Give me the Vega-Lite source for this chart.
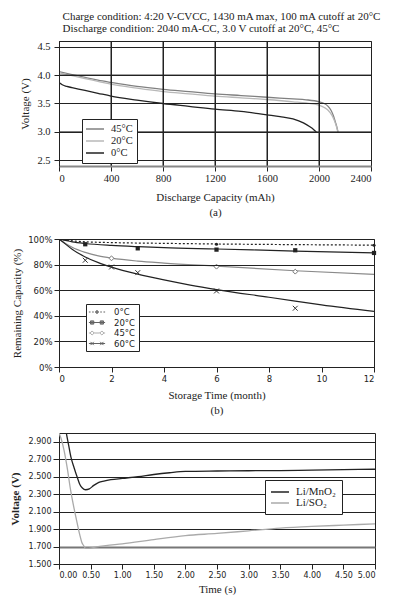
{
  "$schema": "https://vega.github.io/schema/vega-lite/v6.json",
  "padding": {"left": 8, "top": 11, "right": 5, "bottom": 0},
  "background": "white",
  "spacing": 16,
  "title": {"text": ["Charge condition: 4:20 V-CVCC, 1430 mA max, 100 mA cutoff at 20°C", "Discharge condition: 2040 mA-CC, 3.0 V cutoff at 20°C, 45°C"], "anchor": "start", "frame": "bounds", "dx": 54, "font": "Liberation Serif", "fontSize": 11, "fontWeight": "normal", "color": "#222", "lineHeight": 12, "offset": 6},
  "resolve": {
    "scale": {"stroke": "independent", "fill": "independent", "shape": "independent"},
    "legend": {"stroke": "independent", "fill": "independent", "shape": "independent"}
  },
  "config": {
    "view": {"stroke": "#222", "strokeWidth": 1},
    "axis": {"titleFont": "Liberation Serif", "titleFontWeight": "normal", "titleFontSize": 11, "titleColor": "#222", "labelColor": "#222", "tickColor": "#222", "domainColor": "#222", "gridColor": "#222", "gridOpacity": 1, "tickSize": 5, "labelPadding": 2, "labelOverlap": false},
    "legend": {"titleFont": "Liberation Serif"}
  },
  "datasets": {
    "a": [
      {"series": "45°C", "cap": 0, "v": 4.06}, {"series": "45°C", "cap": 100, "v": 4.01}, {"series": "45°C", "cap": 200, "v": 3.96}, {"series": "45°C", "cap": 300, "v": 3.91}, {"series": "45°C", "cap": 400, "v": 3.87}, {"series": "45°C", "cap": 600, "v": 3.80}, {"series": "45°C", "cap": 800, "v": 3.75}, {"series": "45°C", "cap": 1000, "v": 3.71}, {"series": "45°C", "cap": 1200, "v": 3.67}, {"series": "45°C", "cap": 1400, "v": 3.64}, {"series": "45°C", "cap": 1600, "v": 3.61}, {"series": "45°C", "cap": 1800, "v": 3.58}, {"series": "45°C", "cap": 1900, "v": 3.565}, {"series": "45°C", "cap": 2000, "v": 3.53}, {"series": "45°C", "cap": 2040, "v": 3.50}, {"series": "45°C", "cap": 2070, "v": 3.45}, {"series": "45°C", "cap": 2090, "v": 3.39}, {"series": "45°C", "cap": 2110, "v": 3.29}, {"series": "45°C", "cap": 2125, "v": 3.18}, {"series": "45°C", "cap": 2138, "v": 3.08}, {"series": "45°C", "cap": 2146, "v": 3.0},
      {"series": "20°C", "cap": 0, "v": 4.04}, {"series": "20°C", "cap": 100, "v": 3.99}, {"series": "20°C", "cap": 200, "v": 3.94}, {"series": "20°C", "cap": 300, "v": 3.89}, {"series": "20°C", "cap": 400, "v": 3.84}, {"series": "20°C", "cap": 600, "v": 3.77}, {"series": "20°C", "cap": 800, "v": 3.71}, {"series": "20°C", "cap": 1000, "v": 3.67}, {"series": "20°C", "cap": 1200, "v": 3.63}, {"series": "20°C", "cap": 1400, "v": 3.60}, {"series": "20°C", "cap": 1600, "v": 3.57}, {"series": "20°C", "cap": 1800, "v": 3.53}, {"series": "20°C", "cap": 1900, "v": 3.51}, {"series": "20°C", "cap": 2000, "v": 3.47}, {"series": "20°C", "cap": 2040, "v": 3.43}, {"series": "20°C", "cap": 2070, "v": 3.38}, {"series": "20°C", "cap": 2100, "v": 3.29}, {"series": "20°C", "cap": 2120, "v": 3.19}, {"series": "20°C", "cap": 2135, "v": 3.09}, {"series": "20°C", "cap": 2145, "v": 3.0},
      {"series": "0°C", "cap": 0, "v": 3.87}, {"series": "0°C", "cap": 25, "v": 3.83}, {"series": "0°C", "cap": 60, "v": 3.80}, {"series": "0°C", "cap": 100, "v": 3.78}, {"series": "0°C", "cap": 200, "v": 3.73}, {"series": "0°C", "cap": 300, "v": 3.68}, {"series": "0°C", "cap": 400, "v": 3.63}, {"series": "0°C", "cap": 600, "v": 3.56}, {"series": "0°C", "cap": 800, "v": 3.50}, {"series": "0°C", "cap": 1000, "v": 3.45}, {"series": "0°C", "cap": 1200, "v": 3.40}, {"series": "0°C", "cap": 1400, "v": 3.36}, {"series": "0°C", "cap": 1600, "v": 3.30}, {"series": "0°C", "cap": 1700, "v": 3.27}, {"series": "0°C", "cap": 1800, "v": 3.23}, {"series": "0°C", "cap": 1880, "v": 3.16}, {"series": "0°C", "cap": 1930, "v": 3.09}, {"series": "0°C", "cap": 1960, "v": 3.04}, {"series": "0°C", "cap": 1980, "v": 3.0}
    ],
    "agx": [{"cap": 400}, {"cap": 800}, {"cap": 1200}, {"cap": 1600}, {"cap": 2000}],
    "agy": [{"v": 3.0}, {"v": 3.5}, {"v": 4.0}],
    "bl": [
      {"series": "0°C", "t": 0, "pct": 100}, {"series": "0°C", "t": 0.5, "pct": 98.6}, {"series": "0°C", "t": 1, "pct": 97.8}, {"series": "0°C", "t": 2, "pct": 97.2}, {"series": "0°C", "t": 4, "pct": 96.6}, {"series": "0°C", "t": 6, "pct": 96.1}, {"series": "0°C", "t": 9, "pct": 95.6}, {"series": "0°C", "t": 12, "pct": 95.2},
      {"series": "20°C", "t": 0, "pct": 100}, {"series": "20°C", "t": 0.5, "pct": 97.8}, {"series": "20°C", "t": 1, "pct": 96.5}, {"series": "20°C", "t": 2, "pct": 95}, {"series": "20°C", "t": 3, "pct": 94}, {"series": "20°C", "t": 4, "pct": 93.2}, {"series": "20°C", "t": 6, "pct": 92.2}, {"series": "20°C", "t": 9, "pct": 90.6}, {"series": "20°C", "t": 12, "pct": 89.2},
      {"series": "45°C", "t": 0, "pct": 100}, {"series": "45°C", "t": 0.25, "pct": 96.5}, {"series": "45°C", "t": 0.5, "pct": 93.5}, {"series": "45°C", "t": 1, "pct": 89.5}, {"series": "45°C", "t": 1.5, "pct": 86.8}, {"series": "45°C", "t": 2, "pct": 85}, {"series": "45°C", "t": 3, "pct": 82.7}, {"series": "45°C", "t": 4, "pct": 81.2}, {"series": "45°C", "t": 6, "pct": 78.8}, {"series": "45°C", "t": 9, "pct": 75.2}, {"series": "45°C", "t": 12, "pct": 72.4},
      {"series": "60°C", "t": 0, "pct": 100}, {"series": "60°C", "t": 0.25, "pct": 96}, {"series": "60°C", "t": 0.5, "pct": 92}, {"series": "60°C", "t": 1, "pct": 86}, {"series": "60°C", "t": 1.5, "pct": 81.5}, {"series": "60°C", "t": 2, "pct": 78}, {"series": "60°C", "t": 3, "pct": 72.5}, {"series": "60°C", "t": 4, "pct": 68}, {"series": "60°C", "t": 5, "pct": 64}, {"series": "60°C", "t": 6, "pct": 60.5}, {"series": "60°C", "t": 8, "pct": 54.5}, {"series": "60°C", "t": 9, "pct": 51.5}, {"series": "60°C", "t": 10, "pct": 48.5}, {"series": "60°C", "t": 12, "pct": 43.5}
    ],
    "bp": [
      {"series": "0°C", "t": 6, "pct": 95.9}, {"series": "0°C", "t": 12, "pct": 95.1},
      {"series": "20°C", "t": 1, "pct": 95.9}, {"series": "20°C", "t": 3, "pct": 92.7}, {"series": "20°C", "t": 6, "pct": 91.7}, {"series": "20°C", "t": 9, "pct": 91.2}, {"series": "20°C", "t": 12, "pct": 89.1},
      {"series": "45°C", "t": 2, "pct": 84.9}, {"series": "45°C", "t": 6, "pct": 78.4}, {"series": "45°C", "t": 9, "pct": 74.5},
      {"series": "60°C", "t": 1, "pct": 83.4}, {"series": "60°C", "t": 2, "pct": 78.1}, {"series": "60°C", "t": 3, "pct": 73.7}, {"series": "60°C", "t": 6, "pct": 59.4}, {"series": "60°C", "t": 9, "pct": 45.9}
    ],
    "c": [
      {"series": "Li/MnO₂", "t": 0.11, "v": 3.02}, {"series": "Li/MnO₂", "t": 0.15, "v": 2.87}, {"series": "Li/MnO₂", "t": 0.19, "v": 2.72}, {"series": "Li/MnO₂", "t": 0.24, "v": 2.60}, {"series": "Li/MnO₂", "t": 0.29, "v": 2.49}, {"series": "Li/MnO₂", "t": 0.33, "v": 2.41}, {"series": "Li/MnO₂", "t": 0.37, "v": 2.37}, {"series": "Li/MnO₂", "t": 0.42, "v": 2.35}, {"series": "Li/MnO₂", "t": 0.48, "v": 2.36}, {"series": "Li/MnO₂", "t": 0.55, "v": 2.40}, {"series": "Li/MnO₂", "t": 0.63, "v": 2.435}, {"series": "Li/MnO₂", "t": 0.71, "v": 2.45}, {"series": "Li/MnO₂", "t": 0.82, "v": 2.465}, {"series": "Li/MnO₂", "t": 1.0, "v": 2.48}, {"series": "Li/MnO₂", "t": 1.25, "v": 2.50}, {"series": "Li/MnO₂", "t": 1.5, "v": 2.525}, {"series": "Li/MnO₂", "t": 1.75, "v": 2.545}, {"series": "Li/MnO₂", "t": 2.0, "v": 2.56}, {"series": "Li/MnO₂", "t": 2.5, "v": 2.565}, {"series": "Li/MnO₂", "t": 3.0, "v": 2.568}, {"series": "Li/MnO₂", "t": 3.5, "v": 2.57}, {"series": "Li/MnO₂", "t": 4.0, "v": 2.575}, {"series": "Li/MnO₂", "t": 4.5, "v": 2.58}, {"series": "Li/MnO₂", "t": 5.0, "v": 2.585},
      {"series": "Li/SO₂", "t": 0.0, "v": 3.0}, {"series": "Li/SO₂", "t": 0.04, "v": 2.92}, {"series": "Li/SO₂", "t": 0.08, "v": 2.80}, {"series": "Li/SO₂", "t": 0.13, "v": 2.60}, {"series": "Li/SO₂", "t": 0.185, "v": 2.34}, {"series": "Li/SO₂", "t": 0.24, "v": 2.13}, {"series": "Li/SO₂", "t": 0.29, "v": 1.96}, {"series": "Li/SO₂", "t": 0.33, "v": 1.83}, {"series": "Li/SO₂", "t": 0.36, "v": 1.75}, {"series": "Li/SO₂", "t": 0.39, "v": 1.71}, {"series": "Li/SO₂", "t": 0.42, "v": 1.68}, {"series": "Li/SO₂", "t": 0.47, "v": 1.68}, {"series": "Li/SO₂", "t": 0.55, "v": 1.69}, {"series": "Li/SO₂", "t": 0.74, "v": 1.71}, {"series": "Li/SO₂", "t": 1.0, "v": 1.73}, {"series": "Li/SO₂", "t": 1.5, "v": 1.78}, {"series": "Li/SO₂", "t": 2.0, "v": 1.825}, {"series": "Li/SO₂", "t": 2.5, "v": 1.85}, {"series": "Li/SO₂", "t": 3.0, "v": 1.88}, {"series": "Li/SO₂", "t": 3.5, "v": 1.91}, {"series": "Li/SO₂", "t": 4.0, "v": 1.93}, {"series": "Li/SO₂", "t": 4.5, "v": 1.945}, {"series": "Li/SO₂", "t": 5.0, "v": 1.96}
    ]
  },
  "vconcat": [
    {
      "width": 312, "height": 125,
      "layer": [
        {
          "data": {"name": "a"},
          "mark": {"type": "line", "strokeWidth": 1.3, "interpolate": "monotone", "clip": true},
          "encoding": {
            "x": {"field": "cap", "type": "quantitative", "scale": {"domain": [0, 2400]},
              "axis": {"values": [0, 400, 800, 1200, 1600, 2000, 2400], "tickCount": 7, "format": "d", "grid": true, "gridColor": "#222", "gridWidth": 1, "zindex": 1, "title": ["Discharge Capacity (mAh)", "(a)"], "titleLineHeight": 15, "titlePadding": 8, "labelFont": "Liberation Serif", "labelFontSize": 10.5, "domainColor": "#888", "domainWidth": 2}},
            "y": {"field": "v", "type": "quantitative", "scale": {"domain": [2.5, 4.5]},
              "axis": {"values": [2.5, 3, 3.5, 4, 4.5], "tickCount": 5, "format": ".1f", "grid": true, "gridColor": "#222", "gridWidth": 1, "zindex": 1, "title": "Voltage (V)", "titlePadding": 6, "labelPadding": 4, "labelFont": "Liberation Serif", "labelFontSize": 10.5}},
            "stroke": {"field": "series", "type": "nominal", "scale": {"domain": ["45°C", "20°C", "0°C"], "range": ["#808080", "#b8b8b8", "#222222"]},
              "legend": {"orient": "none", "legendX": 23, "legendY": 78, "zindex": 2, "title": null, "symbolType": "M-1.8,0H1.8", "symbolSize": 100, "symbolOffset": 3, "symbolStrokeWidth": 1.5, "labelFont": "Liberation Serif", "labelFontSize": 10.5, "labelColor": "#222", "fillColor": "white", "strokeColor": "#222", "padding": 4, "rowPadding": 0, "labelOffset": 10}}
          }
        },
        {
          "data": {"name": "agx"},
          "mark": {"type": "rule", "color": "#222", "strokeWidth": 1},
          "encoding": {"x": {"field": "cap", "type": "quantitative"}}
        },
        {
          "data": {"name": "agy"},
          "mark": {"type": "rule", "color": "#222", "strokeWidth": 1},
          "encoding": {"y": {"field": "v", "type": "quantitative"}}
        }
      ]
    },
    {
      "width": 315, "height": 128,
      "encoding": {
        "x": {"field": "t", "type": "quantitative", "scale": {"domain": [0, 12]},
          "axis": {"values": [0, 2, 4, 6, 8, 10, 12], "tickCount": 7, "grid": false, "title": ["Storage Time (month)", "(b)"], "titleLineHeight": 15, "titlePadding": 7, "labelFont": "DejaVu Sans", "labelFontSize": 8.5}},
        "y": {"field": "pct", "type": "quantitative", "scale": {"domain": [0, 100]},
          "axis": {"values": [0, 20, 40, 60, 80, 100], "tickCount": 6, "labelExpr": "datum.value + '%'", "labelOverlap": false, "grid": true, "gridColor": "#222", "gridWidth": 1, "zindex": 1, "title": "Remaining Capacity (%)", "titlePadding": 5, "labelFont": "DejaVu Sans", "labelFontSize": 8.5}}
      },
      "layer": [
        {
          "data": {"name": "bp"},
          "mark": {"type": "point", "size": 0, "strokeWidth": 1},
          "encoding": {
            "shape": {"field": "series", "type": "nominal", "scale": {"domain": ["0°C", "20°C", "45°C", "60°C"], "range": [
              "M-1.8,0H-1.44M-1.08,0H-0.72M0.72,0H1.08M1.44,0H1.8M-0.3,0A0.3,0.3 0 1,0 0.3,0A0.3,0.3 0 1,0 -0.3,0Z",
              "M-1.8,0H1.8M-1.44,-0.36H-0.72V0.36H-1.44ZM0.72,-0.36H1.44V0.36H0.72Z",
              "M-1.8,0H-1.53M-0.63,0H0.63M1.53,0H1.8M-1.53,0L-1.08,-0.45L-0.63,0L-1.08,0.45ZM0.63,0L1.08,-0.45L1.53,0L1.08,0.45Z",
              "M-1.8,0H1.8M-1.44,-0.36L-0.72,0.36M-1.44,0.36L-0.72,-0.36M0.72,-0.36L1.44,0.36M0.72,0.36L1.44,-0.36"]},
              "legend": {"orient": "none", "legendX": 27, "legendY": 65, "zindex": 2, "title": null, "symbolSize": 81, "symbolOffset": 3, "symbolStrokeWidth": 1, "labelFont": "DejaVu Sans", "labelFontSize": 8.5, "labelColor": "#222", "fillColor": "white", "strokeColor": "#222", "padding": 3, "rowPadding": 0.5, "labelOffset": 12}},
            "fill": {"field": "series", "type": "nominal", "scale": {"domain": ["0°C", "20°C", "45°C", "60°C"], "range": ["#222222", "#222222", "white", "white"]},
              "legend": {"orient": "none", "legendX": 27, "legendY": 65, "zindex": 2, "title": null, "symbolSize": 81, "symbolOffset": 3, "symbolStrokeWidth": 1, "labelFont": "DejaVu Sans", "labelFontSize": 8.5, "labelColor": "#222", "fillColor": "white", "strokeColor": "#222", "padding": 3, "rowPadding": 0.5, "labelOffset": 12}},
            "stroke": {"field": "series", "type": "nominal", "scale": {"domain": ["0°C", "20°C", "45°C", "60°C"], "range": ["#222222", "#222222", "#8a8a8a", "#222222"]},
              "legend": {"orient": "none", "legendX": 27, "legendY": 65, "zindex": 2, "title": null, "symbolSize": 81, "symbolOffset": 3, "symbolStrokeWidth": 1, "labelFont": "DejaVu Sans", "labelFontSize": 8.5, "labelColor": "#222", "fillColor": "white", "strokeColor": "#222", "padding": 3, "rowPadding": 0.5, "labelOffset": 12}}
          }
        },
        {
          "data": {"name": "bl"},
          "transform": [{"filter": "datum.series === '0°C'"}],
          "mark": {"type": "line", "strokeWidth": 1.2, "interpolate": "monotone", "clip": true, "color": "#222", "strokeDash": [2, 2]}
        },
        {
          "data": {"name": "bl"},
          "transform": [{"filter": "datum.series === '20°C'"}],
          "mark": {"type": "line", "strokeWidth": 1.2, "interpolate": "monotone", "clip": true, "color": "#222"}
        },
        {
          "data": {"name": "bl"},
          "transform": [{"filter": "datum.series === '45°C'"}],
          "mark": {"type": "line", "strokeWidth": 1.2, "interpolate": "monotone", "clip": true, "color": "#8a8a8a"}
        },
        {
          "data": {"name": "bl"},
          "transform": [{"filter": "datum.series === '60°C'"}],
          "mark": {"type": "line", "strokeWidth": 1.2, "interpolate": "monotone", "clip": true, "color": "#222"}
        },
        {
          "data": {"name": "bp"},
          "transform": [{"filter": "datum.series === '0°C'"}],
          "mark": {"type": "point", "shape": "circle", "filled": true, "size": 10, "color": "#222", "opacity": 1}
        },
        {
          "data": {"name": "bp"},
          "transform": [{"filter": "datum.series === '20°C'"}],
          "mark": {"type": "point", "shape": "square", "filled": true, "size": 18, "color": "#222", "opacity": 1}
        },
        {
          "data": {"name": "bp"},
          "transform": [{"filter": "datum.series === '45°C'"}],
          "mark": {"type": "point", "shape": "diamond", "filled": false, "fill": "white", "fillOpacity": 1, "stroke": "#777", "strokeWidth": 1, "size": 24, "opacity": 1}
        },
        {
          "data": {"name": "bp"},
          "transform": [{"filter": "datum.series === '60°C'"}],
          "mark": {"type": "point", "shape": "M-1,-1L1,1M-1,1L1,-1", "filled": false, "stroke": "#333", "strokeWidth": 1, "size": 24, "opacity": 1}
        }
      ]
    },
    {
      "width": 316, "height": 131,
      "data": {"name": "c"},
      "mark": {"type": "line", "strokeWidth": 1.3, "clip": true, "interpolate": "monotone"},
      "encoding": {
        "x": {"field": "t", "type": "quantitative", "scale": {"domain": [0, 5]},
          "axis": {"values": [0, 0.5, 1, 1.5, 2, 2.5, 3, 3.5, 4, 4.5, 5], "tickCount": 11, "format": ".2f", "grid": false, "title": "Time (s)", "titlePadding": 4, "labelFont": "DejaVu Sans", "labelFontSize": 8}},
        "y": {"field": "v", "type": "quantitative", "scale": {"domain": [1.5, 3.0]},
          "axis": {"values": [1.5, 1.7, 1.9, 2.1, 2.3, 2.5, 2.7, 2.9], "tickCount": 8, "format": ".3f", "grid": true, "gridOpacity": 1, "gridColor": {"condition": {"test": "datum.value == 1.7", "value": "#777"}, "value": "#222"}, "gridWidth": {"condition": {"test": "datum.value == 1.7", "value": 2}, "value": 1}, "title": "Voltage (V)", "titleFontWeight": "bold", "titlePadding": 8, "tickSize": 6, "labelFont": "DejaVu Sans", "labelFontSize": 8}},
        "stroke": {"field": "series", "type": "nominal", "scale": {"domain": ["Li/MnO₂", "Li/SO₂"], "range": ["#222222", "#aaaaaa"]},
          "legend": {"orient": "none", "legendX": 206, "legendY": 47, "title": null, "symbolType": "M-1.8,0H1.8", "symbolSize": 100, "symbolOffset": 3, "symbolStrokeWidth": 1.5, "labelFont": "Liberation Serif", "labelFontSize": 11, "labelColor": "#222", "fillColor": "white", "strokeColor": "#222", "padding": 6, "rowPadding": 0, "labelOffset": 10}}
      }
    }
  ]
}
